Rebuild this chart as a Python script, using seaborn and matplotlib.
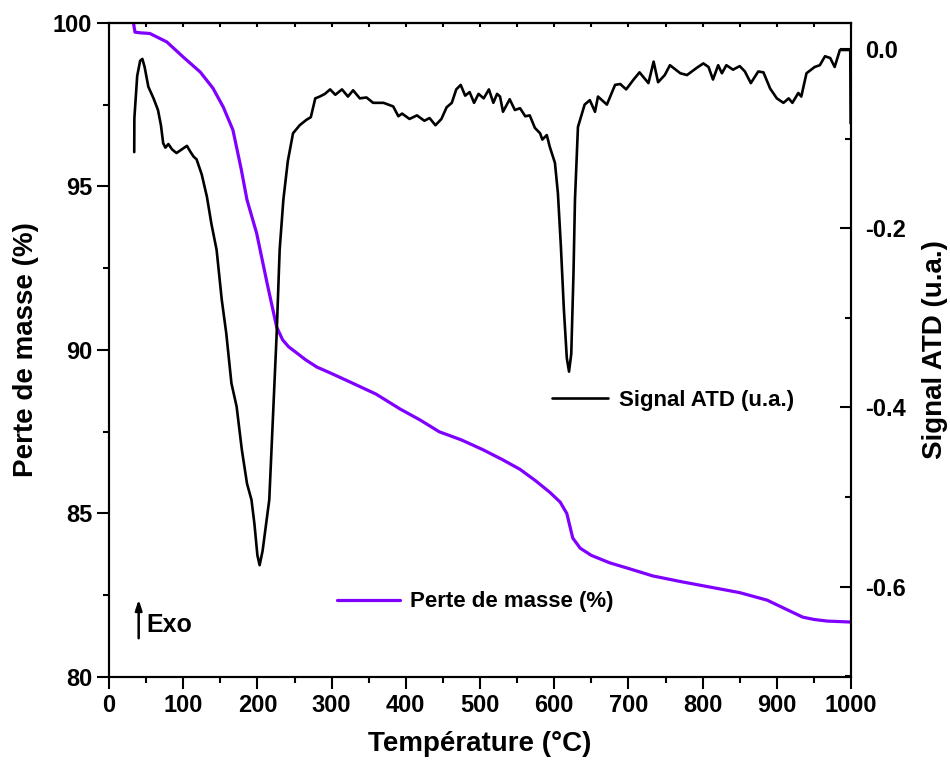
import matplotlib
matplotlib.use("Agg")
import matplotlib.pyplot as plt
from matplotlib.lines import Line2D
from matplotlib.ticker import MultipleLocator
import pandas as pd
import seaborn as sns

# TG curve (left axis)
temp_tg = [33, 35, 42, 55, 78, 100, 123, 140, 154, 167, 178, 186, 199, 213, 226, 234,
           242, 253, 265, 280, 300, 325, 360, 392, 420, 445, 475, 504, 530, 554,
           575, 594, 608, 617, 625, 635, 650, 675, 700, 733, 770, 810, 850, 887,
           910, 935, 950, 968, 1000]
masse = [100.0, 99.72, 99.70, 99.68, 99.42, 98.96, 98.50, 98.01, 97.43, 96.73,
         95.55, 94.59, 93.57, 92.05, 90.70, 90.31, 90.10, 89.91, 89.70, 89.48, 89.28,
         89.02, 88.65, 88.20, 87.85, 87.50, 87.25, 86.95, 86.65, 86.35, 86.00,
         85.65, 85.35, 85.00, 84.25, 83.94, 83.72, 83.49, 83.32, 83.09, 82.92,
         82.75, 82.58, 82.35, 82.10, 81.83, 81.76, 81.71, 81.68]

# DTA curve (right axis)
temp_atd = [34, 34.2, 38, 42, 45, 48, 53, 60, 66, 70, 73, 76, 80, 85, 91, 98, 105,
            110, 114, 118, 125, 132, 138, 145, 152, 158, 165, 172, 179, 186, 192,
            196, 200, 203, 207, 211, 216, 221, 226, 230, 235, 241, 248, 257, 266,
            272, 278, 284, 291, 298, 305, 314, 322, 329, 338, 347, 356, 370, 383,
            390, 395, 405, 415, 425, 432, 440, 448, 455, 462, 468, 474, 480, 486,
            492, 498, 505, 512, 518, 523, 527, 531, 540, 547, 554, 561, 567, 574,
            581, 584, 590, 594, 601, 605, 609, 613, 617, 620, 623, 626, 628, 632,
            641, 648, 655, 659, 671, 682, 689, 697, 707, 715, 727, 734, 740, 749,
            756, 770, 779, 792, 801, 808, 814, 821, 826, 832, 841, 850, 857, 865,
            875, 882, 891, 900, 909, 916, 921, 929, 933, 940, 951, 958, 965, 972,
            978, 985, 999, 999.5]
signal = [-0.115, -0.077, -0.030, -0.013, -0.011, -0.020, -0.042, -0.055, -0.068,
          -0.085, -0.105, -0.110, -0.106, -0.112, -0.116, -0.112, -0.108, -0.115,
          -0.120, -0.123, -0.140, -0.165, -0.195, -0.224, -0.280, -0.317, -0.373,
          -0.399, -0.447, -0.485, -0.503, -0.530, -0.565, -0.576, -0.560, -0.535,
          -0.503, -0.410, -0.317, -0.224, -0.168, -0.125, -0.094, -0.085, -0.079,
          -0.076, -0.055, -0.053, -0.050, -0.045, -0.051, -0.045, -0.053, -0.046,
          -0.055, -0.054, -0.060, -0.060, -0.064, -0.075, -0.072, -0.078, -0.074,
          -0.080, -0.077, -0.085, -0.078, -0.065, -0.060, -0.045, -0.040, -0.052,
          -0.048, -0.060, -0.050, -0.055, -0.045, -0.060, -0.050, -0.053, -0.070,
          -0.056, -0.068, -0.066, -0.075, -0.074, -0.088, -0.094, -0.101, -0.096,
          -0.109, -0.127, -0.161, -0.220, -0.290, -0.345, -0.360, -0.340, -0.250,
          -0.168, -0.087, -0.062, -0.057, -0.070, -0.053, -0.062, -0.040, -0.039,
          -0.045, -0.034, -0.026, -0.038, -0.014, -0.037, -0.029, -0.018, -0.027,
          -0.029, -0.021, -0.016, -0.020, -0.034, -0.018, -0.027, -0.018, -0.023,
          -0.019, -0.025, -0.038, -0.025, -0.026, -0.044, -0.055, -0.060, -0.055,
          -0.060, -0.049, -0.053, -0.027, -0.020, -0.018, -0.008, -0.010, -0.020,
          -0.001, -0.001, -0.083]

PURPLE = "#8000ff"

sns.set_style("ticks")
plt.rcParams['font.family'] = ['Liberation Sans', 'DejaVu Sans']
plt.rcParams['font.weight'] = 'bold'
plt.rcParams['axes.labelweight'] = 'bold'
for key in ("text.color", "axes.labelcolor", "xtick.color", "ytick.color", "axes.edgecolor"):
    plt.rcParams[key] = "black"

df_tg = pd.DataFrame({"T": temp_tg, "m": masse})
df_atd = pd.DataFrame({"T": temp_atd, "s": signal})

fig = plt.figure(figsize=(9.5, 7.76), dpi=100)
ax = fig.add_axes([109 / 950, 1 - 677 / 776, 742 / 950, 654 / 776])
ax2 = ax.twinx()

sns.lineplot(data=df_tg, x="T", y="m", ax=ax, color=PURPLE, lw=2.3, sort=False)
sns.lineplot(data=df_atd, x="T", y="s", ax=ax2, color="black", lw=1.9, sort=False)

ax.set_xlim(0, 1000)
ax.set_ylim(80, 100)
ax2.set_ylim(-0.7008, 0.0291)

ax.xaxis.set_major_locator(MultipleLocator(100))
ax.xaxis.set_minor_locator(MultipleLocator(50))
ax.yaxis.set_major_locator(MultipleLocator(5))
ax.yaxis.set_minor_locator(MultipleLocator(2.5))
ax2.yaxis.set_major_locator(MultipleLocator(0.2))
ax2.yaxis.set_minor_locator(MultipleLocator(0.1))
ax2.set_yticklabels([f"{v:.1f}" if abs(v) > 1e-9 else "0.0" for v in ax2.get_yticks()])

ax.tick_params(axis="both", which="major", length=8.5, width=1.5, labelsize=17,
               direction="out", colors="black")
ax.tick_params(axis="both", which="minor", length=4.5, width=1.5, direction="out",
               colors="black")
ax2.tick_params(axis="y", which="major", length=8, width=1.5, labelsize=17,
                direction="in", pad=10, colors="black")
ax2.tick_params(axis="y", which="minor", length=4.5, width=1.5, direction="in",
                colors="black")

top = ax.secondary_xaxis("top")
top.xaxis.set_major_locator(MultipleLocator(50))
top.tick_params(axis="x", which="major", length=3, width=1.5, direction="in",
                labeltop=False, colors="black")

for a in (ax, ax2, top):
    for sp in a.spines.values():
        sp.set_linewidth(1.5)
        sp.set_color("black")
for a in (ax, ax2):
    for sp in a.spines.values():
        sp.set_visible(True)

ax.set_xlabel("Température (°C)", fontsize=20, labelpad=10)
ax.set_ylabel("Perte de masse (%)", fontsize=20, labelpad=10)
ax2.set_ylabel("Signal ATD (u.a.)", fontsize=20, labelpad=12)

# legends
h_atd = [Line2D([0], [0], color="black", lw=1.9)]
leg1 = ax2.legend(h_atd, ["Signal ATD (u.a.)"], loc="center left",
                  bbox_to_anchor=(0.597, 0.4235), frameon=False, borderpad=0,
                  borderaxespad=0, handlelength=2.5, handletextpad=0.5,
                  prop={"size": 16, "weight": "bold"})
h_tg = [Line2D([0], [0], color=PURPLE, lw=2.3)]
leg2 = ax2.legend(h_tg, ["Perte de masse (%)"], loc="center left",
                  bbox_to_anchor=(0.307, 0.1147), frameon=False, borderpad=0,
                  borderaxespad=0, handlelength=2.85, handletextpad=0.45,
                  prop={"size": 16, "weight": "bold"})
ax2.add_artist(leg1)

# Exo marker
ax.annotate("", xy=(40, 82.45), xytext=(40, 81.1),
            arrowprops=dict(arrowstyle="-|>,head_length=0.6,head_width=0.2",
                            lw=1.8, color="black"))
ax.text(51, 81.6, "Exo", fontsize=18, fontweight="bold", va="center", ha="left")

fig.savefig("out.png", dpi=100)
